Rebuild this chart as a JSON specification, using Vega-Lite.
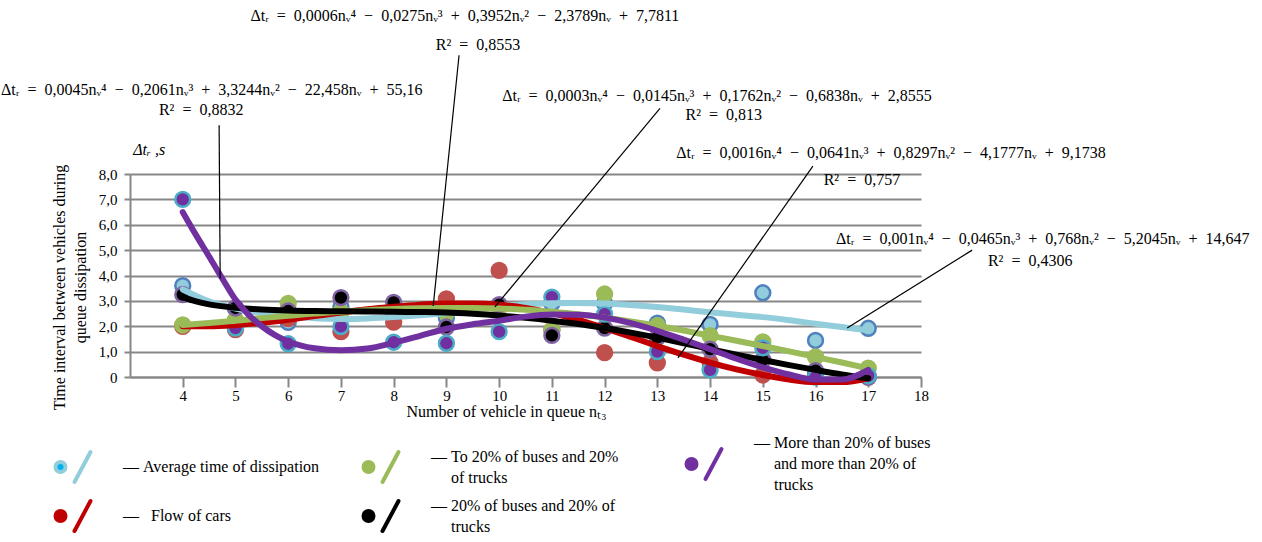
{
  "$schema": "https://vega.github.io/schema/vega-lite/v6.json",
  "width": 791,
  "height": 203,
  "autosize": {"type": "none"},
  "padding": {"left": 130, "top": 174, "right": 341, "bottom": 165},
  "background": "white",
  "config": {
    "font": "Liberation Serif",
    "view": {"stroke": null},
    "axis": {
      "labelFont": "Liberation Serif", "labelFontSize": 15, "labelColor": "black",
      "titleFont": "Liberation Serif", "titleFontSize": 16, "titleFontWeight": "normal", "titleColor": "black",
      "domainColor": "#878787", "domainWidth": 2, "tickColor": "#878787", "tickWidth": 2,
      "gridColor": "#878787", "gridWidth": 2, "labelFlush": false, "labelOverlap": false
    }
  },
  "datasets": {
    "points": [
      {"series": "avg", "x": 4, "y": 3.6}, {"series": "avg", "x": 5, "y": 2.7}, {"series": "avg", "x": 6, "y": 2.15}, {"series": "avg", "x": 7, "y": 2.77}, {"series": "avg", "x": 8, "y": 2.4}, {"series": "avg", "x": 9, "y": 2.33}, {"series": "avg", "x": 10, "y": 2.8}, {"series": "avg", "x": 11, "y": 2.9}, {"series": "avg", "x": 12, "y": 2.9}, {"series": "avg", "x": 13, "y": 2.12}, {"series": "avg", "x": 14, "y": 2.07}, {"series": "avg", "x": 15, "y": 3.32}, {"series": "avg", "x": 16, "y": 1.44}, {"series": "avg", "x": 17, "y": 1.92},
      {"series": "cars", "x": 4, "y": 2.0}, {"series": "cars", "x": 5, "y": 1.87}, {"series": "cars", "x": 6, "y": 2.3}, {"series": "cars", "x": 7, "y": 1.79}, {"series": "cars", "x": 8, "y": 2.16}, {"series": "cars", "x": 9, "y": 3.08}, {"series": "cars", "x": 10, "y": 4.2}, {"series": "cars", "x": 11, "y": 1.85}, {"series": "cars", "x": 12, "y": 0.96}, {"series": "cars", "x": 13, "y": 0.56}, {"series": "cars", "x": 14, "y": 0.57}, {"series": "cars", "x": 15, "y": 0.08}, {"series": "cars", "x": 16, "y": 0.1}, {"series": "cars", "x": 17, "y": 0.0},
      {"series": "to20", "x": 4, "y": 2.05}, {"series": "to20", "x": 5, "y": 2.25}, {"series": "to20", "x": 6, "y": 2.9}, {"series": "to20", "x": 7, "y": 2.57}, {"series": "to20", "x": 8, "y": 2.67}, {"series": "to20", "x": 9, "y": 2.52}, {"series": "to20", "x": 10, "y": 2.72}, {"series": "to20", "x": 11, "y": 1.85}, {"series": "to20", "x": 12, "y": 3.27}, {"series": "to20", "x": 13, "y": 2.02}, {"series": "to20", "x": 14, "y": 1.63}, {"series": "to20", "x": 15, "y": 1.38}, {"series": "to20", "x": 16, "y": 0.79}, {"series": "to20", "x": 17, "y": 0.35},
      {"series": "b20", "x": 4, "y": 3.25}, {"series": "b20", "x": 5, "y": 2.72}, {"series": "b20", "x": 6, "y": 2.6}, {"series": "b20", "x": 7, "y": 3.13}, {"series": "b20", "x": 8, "y": 2.94}, {"series": "b20", "x": 9, "y": 1.97}, {"series": "b20", "x": 10, "y": 2.85}, {"series": "b20", "x": 11, "y": 1.64}, {"series": "b20", "x": 12, "y": 1.93}, {"series": "b20", "x": 13, "y": 1.55}, {"series": "b20", "x": 14, "y": 1.1}, {"series": "b20", "x": 15, "y": 0.67}, {"series": "b20", "x": 16, "y": 0.25}, {"series": "b20", "x": 17, "y": 0.0},
      {"series": "more", "x": 4, "y": 7.0}, {"series": "more", "x": 5, "y": 1.93}, {"series": "more", "x": 6, "y": 1.31}, {"series": "more", "x": 7, "y": 1.99}, {"series": "more", "x": 8, "y": 1.37}, {"series": "more", "x": 9, "y": 1.33}, {"series": "more", "x": 10, "y": 1.79}, {"series": "more", "x": 11, "y": 3.15}, {"series": "more", "x": 12, "y": 2.48}, {"series": "more", "x": 13, "y": 1.0}, {"series": "more", "x": 14, "y": 0.28}, {"series": "more", "x": 15, "y": 1.15}, {"series": "more", "x": 16, "y": 0.0}, {"series": "more", "x": 17, "y": 0.05}
    ],
    "curves": [
      {"series": "avg", "x": 4, "y": 3.45}, {"series": "avg", "x": 4.5, "y": 2.98}, {"series": "avg", "x": 5, "y": 2.7}, {"series": "avg", "x": 5.5, "y": 2.52}, {"series": "avg", "x": 6, "y": 2.41}, {"series": "avg", "x": 6.5, "y": 2.32}, {"series": "avg", "x": 7, "y": 2.29}, {"series": "avg", "x": 7.5, "y": 2.31}, {"series": "avg", "x": 8, "y": 2.36}, {"series": "avg", "x": 8.5, "y": 2.43}, {"series": "avg", "x": 9, "y": 2.52}, {"series": "avg", "x": 9.5, "y": 2.66}, {"series": "avg", "x": 10, "y": 2.79}, {"series": "avg", "x": 10.5, "y": 2.87}, {"series": "avg", "x": 11, "y": 2.91}, {"series": "avg", "x": 11.5, "y": 2.92}, {"series": "avg", "x": 12, "y": 2.9}, {"series": "avg", "x": 12.5, "y": 2.84}, {"series": "avg", "x": 13, "y": 2.76}, {"series": "avg", "x": 13.5, "y": 2.66}, {"series": "avg", "x": 14, "y": 2.55}, {"series": "avg", "x": 14.5, "y": 2.45}, {"series": "avg", "x": 15, "y": 2.36}, {"series": "avg", "x": 15.5, "y": 2.24}, {"series": "avg", "x": 16, "y": 2.1}, {"series": "avg", "x": 16.5, "y": 1.97}, {"series": "avg", "x": 17, "y": 1.84},
      {"series": "cars", "x": 4, "y": 2.0}, {"series": "cars", "x": 4.5, "y": 2.0}, {"series": "cars", "x": 5, "y": 2.05}, {"series": "cars", "x": 5.5, "y": 2.14}, {"series": "cars", "x": 6, "y": 2.26}, {"series": "cars", "x": 6.5, "y": 2.4}, {"series": "cars", "x": 7, "y": 2.54}, {"series": "cars", "x": 7.5, "y": 2.67}, {"series": "cars", "x": 8, "y": 2.77}, {"series": "cars", "x": 8.5, "y": 2.85}, {"series": "cars", "x": 9, "y": 2.9}, {"series": "cars", "x": 9.5, "y": 2.9}, {"series": "cars", "x": 10, "y": 2.85}, {"series": "cars", "x": 10.5, "y": 2.72}, {"series": "cars", "x": 11, "y": 2.52}, {"series": "cars", "x": 11.5, "y": 2.25}, {"series": "cars", "x": 12, "y": 1.93}, {"series": "cars", "x": 12.5, "y": 1.58}, {"series": "cars", "x": 13, "y": 1.22}, {"series": "cars", "x": 13.5, "y": 0.88}, {"series": "cars", "x": 14, "y": 0.57}, {"series": "cars", "x": 14.5, "y": 0.3}, {"series": "cars", "x": 15, "y": 0.08}, {"series": "cars", "x": 15.5, "y": -0.1}, {"series": "cars", "x": 16, "y": -0.2}, {"series": "cars", "x": 16.5, "y": -0.2}, {"series": "cars", "x": 17, "y": -0.05},
      {"series": "to20", "x": 4, "y": 2.05}, {"series": "to20", "x": 4.5, "y": 2.13}, {"series": "to20", "x": 5, "y": 2.22}, {"series": "to20", "x": 5.5, "y": 2.32}, {"series": "to20", "x": 6, "y": 2.41}, {"series": "to20", "x": 6.5, "y": 2.5}, {"series": "to20", "x": 7, "y": 2.57}, {"series": "to20", "x": 7.5, "y": 2.63}, {"series": "to20", "x": 8, "y": 2.68}, {"series": "to20", "x": 8.5, "y": 2.71}, {"series": "to20", "x": 9, "y": 2.72}, {"series": "to20", "x": 9.5, "y": 2.72}, {"series": "to20", "x": 10, "y": 2.7}, {"series": "to20", "x": 10.5, "y": 2.65}, {"series": "to20", "x": 11, "y": 2.57}, {"series": "to20", "x": 11.5, "y": 2.47}, {"series": "to20", "x": 12, "y": 2.34}, {"series": "to20", "x": 12.5, "y": 2.19}, {"series": "to20", "x": 13, "y": 2.02}, {"series": "to20", "x": 13.5, "y": 1.83}, {"series": "to20", "x": 14, "y": 1.63}, {"series": "to20", "x": 14.5, "y": 1.43}, {"series": "to20", "x": 15, "y": 1.22}, {"series": "to20", "x": 15.5, "y": 1.01}, {"series": "to20", "x": 16, "y": 0.79}, {"series": "to20", "x": 16.5, "y": 0.57}, {"series": "to20", "x": 17, "y": 0.34},
      {"series": "b20", "x": 4, "y": 3.15}, {"series": "b20", "x": 4.25, "y": 2.98}, {"series": "b20", "x": 4.5, "y": 2.86}, {"series": "b20", "x": 5, "y": 2.73}, {"series": "b20", "x": 5.5, "y": 2.66}, {"series": "b20", "x": 6, "y": 2.62}, {"series": "b20", "x": 6.5, "y": 2.6}, {"series": "b20", "x": 7, "y": 2.59}, {"series": "b20", "x": 7.5, "y": 2.58}, {"series": "b20", "x": 8, "y": 2.57}, {"series": "b20", "x": 8.5, "y": 2.56}, {"series": "b20", "x": 9, "y": 2.54}, {"series": "b20", "x": 9.5, "y": 2.49}, {"series": "b20", "x": 10, "y": 2.42}, {"series": "b20", "x": 10.5, "y": 2.33}, {"series": "b20", "x": 11, "y": 2.22}, {"series": "b20", "x": 11.5, "y": 2.09}, {"series": "b20", "x": 12, "y": 1.93}, {"series": "b20", "x": 12.5, "y": 1.75}, {"series": "b20", "x": 13, "y": 1.55}, {"series": "b20", "x": 13.5, "y": 1.33}, {"series": "b20", "x": 14, "y": 1.1}, {"series": "b20", "x": 14.5, "y": 0.88}, {"series": "b20", "x": 15, "y": 0.67}, {"series": "b20", "x": 15.5, "y": 0.47}, {"series": "b20", "x": 16, "y": 0.28}, {"series": "b20", "x": 16.5, "y": 0.1}, {"series": "b20", "x": 17, "y": -0.05},
      {"series": "more", "x": 4, "y": 6.5}, {"series": "more", "x": 4.25, "y": 5.6}, {"series": "more", "x": 4.5, "y": 4.75}, {"series": "more", "x": 4.75, "y": 3.88}, {"series": "more", "x": 5, "y": 3.05}, {"series": "more", "x": 5.25, "y": 2.45}, {"series": "more", "x": 5.5, "y": 2.0}, {"series": "more", "x": 5.75, "y": 1.65}, {"series": "more", "x": 6, "y": 1.4}, {"series": "more", "x": 6.5, "y": 1.13}, {"series": "more", "x": 7, "y": 1.05}, {"series": "more", "x": 7.5, "y": 1.12}, {"series": "more", "x": 8, "y": 1.35}, {"series": "more", "x": 8.5, "y": 1.62}, {"series": "more", "x": 9, "y": 1.9}, {"series": "more", "x": 9.5, "y": 2.08}, {"series": "more", "x": 10, "y": 2.22}, {"series": "more", "x": 10.5, "y": 2.38}, {"series": "more", "x": 11, "y": 2.46}, {"series": "more", "x": 11.5, "y": 2.45}, {"series": "more", "x": 12, "y": 2.34}, {"series": "more", "x": 12.5, "y": 2.12}, {"series": "more", "x": 13, "y": 1.82}, {"series": "more", "x": 13.5, "y": 1.47}, {"series": "more", "x": 14, "y": 1.1}, {"series": "more", "x": 14.5, "y": 0.72}, {"series": "more", "x": 15, "y": 0.38}, {"series": "more", "x": 15.5, "y": 0.1}, {"series": "more", "x": 16, "y": -0.1}, {"series": "more", "x": 16.5, "y": -0.1}, {"series": "more", "x": 17, "y": 0.28}
    ],
    "notes": [
      {"x": 4.55, "y": 11.3, "text": "Δtᵣ \u00a0=\u00a0 0,0045nᵥ⁴ \u00a0−\u00a0 0,2061nᵥ³ \u00a0+\u00a0 3,3244nᵥ² \u00a0−\u00a0 22,458nᵥ \u00a0+\u00a0 55,16"},
      {"x": 4.35, "y": 10.51, "text": "R² \u00a0=\u00a0 0,8832"},
      {"x": 9.35, "y": 14.21, "text": "Δtᵣ \u00a0=\u00a0 0,0006nᵥ⁴ \u00a0−\u00a0 0,0275nᵥ³ \u00a0+\u00a0 0,3952nᵥ² \u00a0−\u00a0 2,3789nᵥ \u00a0+\u00a0 7,7811"},
      {"x": 9.6, "y": 13.07, "text": "R² \u00a0=\u00a0 0,8553"},
      {"x": 14.13, "y": 11.06, "text": "Δtᵣ \u00a0=\u00a0 0,0003nᵥ⁴ \u00a0−\u00a0 0,0145nᵥ³ \u00a0+\u00a0 0,1762nᵥ² \u00a0−\u00a0 0,6838nᵥ \u00a0+\u00a0 2,8555"},
      {"x": 14.26, "y": 10.31, "text": "R² \u00a0=\u00a0 0,813"},
      {"x": 17.43, "y": 8.82, "text": "Δtᵣ \u00a0=\u00a0 0,0016nᵥ⁴ \u00a0−\u00a0 0,0641nᵥ³ \u00a0+\u00a0 0,8297nᵥ² \u00a0−\u00a0 4,1777nᵥ \u00a0+\u00a0 9,1738"},
      {"x": 16.88, "y": 7.76, "text": "R² \u00a0=\u00a0 0,757"},
      {"x": 20.31, "y": 5.43, "text": "Δtᵣ \u00a0=\u00a0 0,001nᵥ⁴ \u00a0−\u00a0 0,0465nᵥ³ \u00a0+\u00a0 0,768nᵥ² \u00a0−\u00a0 5,2045nᵥ \u00a0+\u00a0 14,647"},
      {"x": 20.07, "y": 4.57, "text": "R² \u00a0=\u00a0 0,4306"}
    ],
    "leaders": [
      {"x": 4.69, "y": 9.92, "x2": 4.71, "y2": 3.88},
      {"x": 9.24, "y": 12.68, "x2": 8.75, "y2": 2.8},
      {"x": 13.05, "y": 10.59, "x2": 9.92, "y2": 2.76},
      {"x": 15.95, "y": 8.31, "x2": 13.39, "y2": 0.75},
      {"x": 18.97, "y": 5.0, "x2": 16.6, "y2": 1.93}
    ],
    "unit": [{"x": 3.06, "y": 8.94, "text": "Δtᵣ ,s"}]
  },
  "encoding": {
    "x": {
      "field": "x", "type": "quantitative",
      "scale": {"domain": [3, 18], "nice": false, "zero": false},
      "axis": {
        "values": [4, 5, 6, 7, 8, 9, 10, 11, 12, 13, 14, 15, 16, 17, 18],
        "grid": false, "tickSize": 10, "labelPadding": 1, "labelOverlap": false,
        "title": "Number of vehicle in queue nₜ₃",
        "titleX": 376, "titleY": 34, "titleBaseline": "middle", "titleAnchor": "middle"
      }
    },
    "y": {
      "field": "y", "type": "quantitative",
      "scale": {"domain": [0, 8], "nice": false, "zero": false},
      "axis": {
        "values": [0, 1, 2, 3, 4, 5, 6, 7, 8],
        "grid": true, "tickSize": 6, "labelPadding": 7, "labelOverlap": false,
        "labelExpr": "datum.value == 0 ? '0' : replace(format(datum.value, '.1f'), '.', ',')",
        "title": ["Time interval between vehicles during", "queue dissipation"],
        "titleX": -63, "titleY": 113, "titleLineHeight": 21, "titleAnchor": "middle"
      }
    }
  },
  "layer": [
    {
      "data": {"name": "points"},
      "mark": {"type": "point", "filled": true, "shape": "circle", "size": 220, "strokeWidth": 2.5, "opacity": 1},
      "encoding": {
        "fill": {
          "field": "series", "type": "nominal", "legend": null,
          "scale": {"domain": ["avg", "cars", "to20", "b20", "more"], "range": ["#93cddd", "#c0504d", "#9bbb59", "#000000", "#7030a0"]}
        },
        "stroke": {
          "field": "series", "type": "nominal", "legend": null,
          "scale": {"domain": ["avg", "cars", "to20", "b20", "more"], "range": ["#4f81bd", "#c0504d", "#9bbb59", "#8064a2", "#4bacc6"]}
        }
      }
    },
    {
      "data": {"name": "curves"},
      "mark": {"type": "line", "strokeWidth": 6, "strokeCap": "round", "interpolate": "monotone"},
      "encoding": {
        "color": {
          "field": "series", "type": "nominal",
          "scale": {"domain": ["avg", "to20", "more", "cars", "b20"], "range": ["#92cddc", "#9bbb59", "#7030a0", "#c00000", "#000000"]},
          "legend": {
            "orient": "none", "legendX": -79, "legendY": 269, "columns": 3, "direction": "horizontal",
            "title": null, "padding": 0, "columnPadding": 35, "rowPadding": 0,
            "symbolType": "M-0.868,0A0.263,0.263,0,1,0,-0.342,0A0.263,0.263,0,1,0,-0.868,0ZM0.132,0.789L0.974,-0.789",
            "symbolSize": 1444, "symbolStrokeWidth": 4, "symbolOffset": 0,
            "labelFont": "Liberation Serif", "labelFontSize": 16, "labelColor": "black", "labelOffset": 30, "labelLimit": 500,
            "labelExpr": "datum.label === 'avg' ? '—\u00a0Average time of dissipation' : datum.label === 'cars' ? '—\u00a0\u00a0\u00a0Flow of cars' : datum.label === 'to20' ? ['—\u00a0To 20% of buses and 20%\u00a0\u00a0\u00a0\u00a0\u00a0\u00a0\u200b', '\u200b\u00a0\u00a0\u00a0\u00a0\u00a0of trucks'] : datum.label === 'b20' ? ['—\u00a020% of buses and 20% of', '\u200b\u00a0\u00a0\u00a0\u00a0\u00a0trucks'] : ['—\u00a0More than 20% of buses', '\u200b\u00a0\u00a0\u00a0\u00a0\u00a0and more than 20% of', '\u200b\u00a0\u00a0\u00a0\u00a0\u00a0trucks']",
            "encode": {
              "symbols": {"update": {
                "fill": {"signal": "datum.value === 'avg' ? '#00b0f0' : scale('color', datum.value)"},
                "stroke": {"signal": "scale('color', datum.value)"},
                "strokeCap": {"value": "round"},
                "opacity": {"value": 1}
              }},
              "labels": {"update": {
                "lineHeight": {"value": 21},
                "dy": {"signal": "datum.value === 'more' ? -21 : (datum.value === 'to20' || datum.value === 'b20') ? -10.5 : 0"}
              }}
            }
          }
        }
      }
    },
    {
      "data": {"name": "leaders"},
      "mark": {"type": "rule", "color": "black", "strokeWidth": 1.2},
      "encoding": {
        "x2": {"field": "x2"},
        "y2": {"field": "y2"}
      }
    },
    {
      "data": {"name": "notes"},
      "mark": {"type": "text", "font": "Liberation Serif", "fontSize": 16, "color": "black", "align": "center", "baseline": "middle"},
      "encoding": {
        "text": {"field": "text"}
      }
    },
    {
      "data": {"name": "unit"},
      "mark": {"type": "text", "font": "Liberation Serif", "fontSize": 16, "fontStyle": "italic", "color": "black", "align": "left", "baseline": "middle"},
      "encoding": {
        "text": {"field": "text"}
      }
    }
  ]
}
